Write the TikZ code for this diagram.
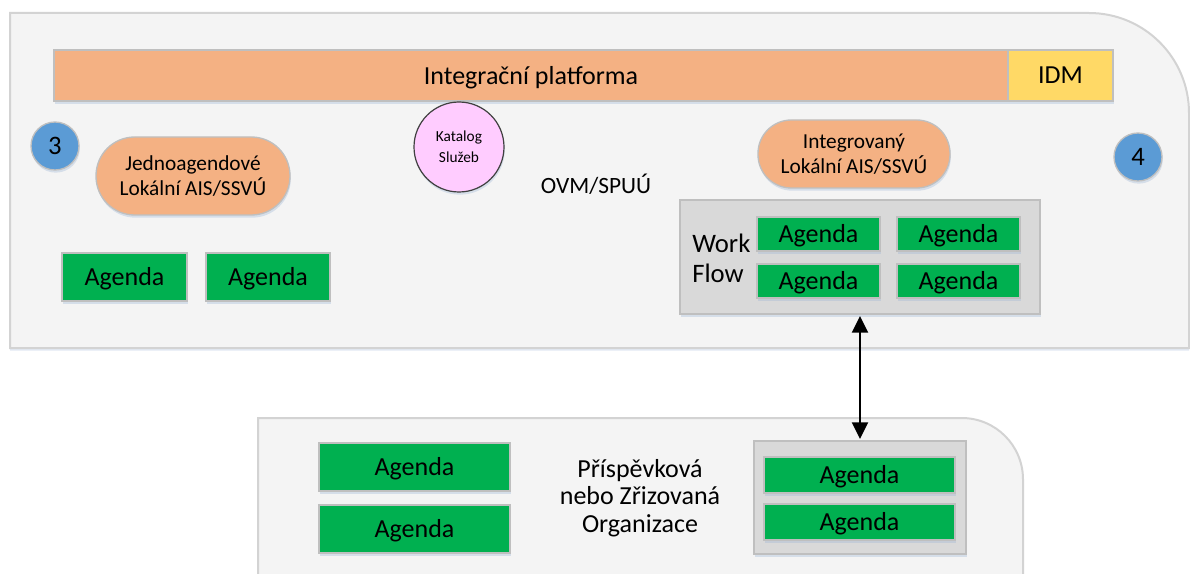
\documentclass[tikz,border=0pt]{standalone}
\usepackage{fontspec}
\setmainfont{Carlito}
\usetikzlibrary{arrows.meta,shadows}
\definecolor{contfill}{HTML}{F4F4F4}
\definecolor{contline}{HTML}{D3D3D3}
\definecolor{orangef}{HTML}{F4B183}
\definecolor{idmf}{HTML}{FFD966}
\definecolor{bluef}{HTML}{5B9BD5}
\definecolor{greenf}{HTML}{00B050}
\definecolor{grayf}{HTML}{D9D9D9}
\definecolor{boxline}{HTML}{BFBFBF}
\definecolor{pinkf}{HTML}{FFCCFF}
\definecolor{shadowc}{HTML}{9DB5D6}
\tikzset{
  shad/.style={drop shadow={shadow xshift=0.6pt,shadow yshift=-2pt,fill=shadowc,opacity=0.35}},
  container/.style={fill=contfill,draw=contline,line width=1.5pt},
  agenda/.style={rectangle,fill=greenf,draw=boxline,line width=1pt,shad,
    font=\fontsize{19.5}{23}\selectfont,inner sep=0pt,text depth=1pt},
  graybox/.style={rectangle,fill=grayf,draw=boxline,line width=1pt,shad,inner sep=0pt},
  pill/.style={rectangle,fill=orangef,draw=boxline,line width=1pt,shad,align=center,
    font=\fontsize{16}{19}\selectfont,inner sep=0pt},
  numc/.style={circle,fill=bluef,draw=boxline,line width=1pt,shad,minimum size=36pt,
    inner sep=0pt,font=\fontsize{20}{22}\selectfont,text depth=0pt},
  bar/.style={rectangle,draw=boxline,line width=1pt,shad,inner sep=0pt,minimum height=38.25pt,
    font=\fontsize{19.5}{23}\selectfont,text depth=0.5pt},
  lbl/.style={align=center,inner sep=0pt}
}
\begin{document}
\begin{tikzpicture}[x=0.75pt,y=-0.75pt]
\useasboundingbox (0,0) rectangle (1190,574);
\clip (0,0) rectangle (1190,574);
% containers
\draw[container,drop shadow={shadow xshift=0pt,shadow yshift=-2pt,fill=shadowc,opacity=0.3}]
  (10,348) -- (10,13) [rounded corners=75pt]-- (1189,13) [sharp corners]-- (1189,348) -- cycle;
\draw[container,drop shadow={shadow xshift=0pt,shadow yshift=-2pt,fill=shadowc,opacity=0.3}]
  (258,600) -- (258,418) [rounded corners=46pt]-- (1023,418) [sharp corners]-- (1023,600) -- cycle;
% top bar
\node[bar,fill=orangef,minimum width=954*0.75pt] (ip) at (531,75.5) {Integrační platforma};
\node[bar,fill=idmf,minimum width=105*0.75pt] (idm) at (1060.5,75.5) {IDM};
% numbers
\node[numc] (n3) at (55,146) {3};
\node[numc] (n4) at (1138,157) {4};
% pills
\node[pill,minimum width=194*0.75pt,minimum height=78*0.75pt,rounded corners=29pt] (jed) at (193,176)
  {Jednoagendové\\Lokální AIS/SSVÚ};
\node[pill,minimum width=192*0.75pt,minimum height=68*0.75pt,rounded corners=25pt] (int) at (854,154)
  {Integrovaný\\Lokální AIS/SSVÚ};
% catalog
\node[circle,fill=pinkf,draw=black!75,line width=0.9pt,minimum size=67.5pt,inner sep=0pt,shad,
  align=center,font=\fontsize{11.5}{15.5}\selectfont] (kat) at (459,147) {Katalog\\Služeb};
% OVM label
\node[lbl,font=\fontsize{17.5}{21}\selectfont] (ovm) at (596,184) {OVM/SPUÚ};
% left agendas
\node[agenda,minimum width=125*0.75pt,minimum height=48*0.75pt] (a1) at (124.5,277) {Agenda};
\node[agenda,minimum width=124*0.75pt,minimum height=48*0.75pt] (a2) at (268,277) {Agenda};
% workflow box
\node[graybox,minimum width=360*0.75pt,minimum height=114*0.75pt] (wf) at (860,257) {};
\node[lbl,anchor=west,align=left,font=\fontsize{20}{22.5}\selectfont] (wft) at (692,258) {Work\\Flow};
\node[agenda,minimum width=123*0.75pt,minimum height=34*0.75pt] (w1) at (818.5,234) {Agenda};
\node[agenda,minimum width=123*0.75pt,minimum height=34*0.75pt] (w2) at (958.5,234) {Agenda};
\node[agenda,minimum width=123*0.75pt,minimum height=34*0.75pt] (w3) at (818.5,281) {Agenda};
\node[agenda,minimum width=123*0.75pt,minimum height=34*0.75pt] (w4) at (958.5,281) {Agenda};
% bottom
\node[agenda,minimum width=191*0.75pt,minimum height=48*0.75pt] (b1) at (414.5,467) {Agenda};
\node[agenda,minimum width=191*0.75pt,minimum height=48*0.75pt] (b2) at (414.5,529) {Agenda};
\node[lbl,font=\fontsize{19.5}{20.6}\selectfont] (org) at (640,498) {Příspěvková\\nebo Zřizovaná\\Organizace};
\node[graybox,minimum width=212*0.75pt,minimum height=113*0.75pt] (og) at (860,497.5) {};
\node[agenda,minimum width=191*0.75pt,minimum height=36*0.75pt] (o1) at (859.5,475) {Agenda};
\node[agenda,minimum width=191*0.75pt,minimum height=36*0.75pt] (o2) at (859.5,522) {Agenda};
% arrow
\draw[line width=1.5pt,{Triangle[length=12.5pt,width=12pt]}-{Triangle[length=12.5pt,width=12pt]}]
  ([yshift=-1pt]wf.south) -- ([yshift=1pt]og.north);
\end{tikzpicture}
\end{document}
